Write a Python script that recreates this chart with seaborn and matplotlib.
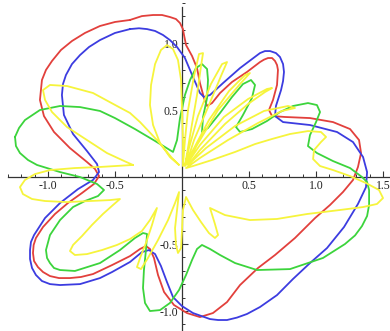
import numpy as np
import pandas as pd
import matplotlib
matplotlib.use("Agg")
import matplotlib.pyplot as plt
from matplotlib.ticker import FixedLocator, MultipleLocator
import seaborn as sns

# ---- traced curve coordinates (x, y) ----
red_x = [-0.388, -0.299, -0.216, -0.149, -0.090, -0.045, -0.015, 0.007, 0.015, 0.030, 0.075,
         0.112, 0.134, 0.164, 0.187, 0.224, 0.284, 0.373, 0.485, 0.582, 0.612, 0.642, 0.672,
         0.694, 0.709, 0.716, 0.709, 0.679, 0.649, 0.672, 0.769, 0.955, 1.127, 1.254, 1.321,
         1.336, 1.313, 1.276, 1.201, 1.104, 0.993, 0.843, 0.694, 0.567, 0.433, 0.336, 0.231,
         0.134, 0.037, -0.060, -0.134, -0.179, -0.209, -0.239, -0.269, -0.313, -0.388,
         -0.522, -0.664, -0.754, -0.836, -0.918, -0.985, -1.037, -1.075, -1.104, -1.112,
         -1.107, -1.090, -1.037, -0.948, -0.851, -0.746, -0.657, -0.619, -0.649, -0.709,
         -0.836, -0.955, -1.030, -1.060, -1.045, -1.015, -0.970, -0.903, -0.821, -0.724,
         -0.612, -0.500, -0.388]
red_y = [1.172, 1.201, 1.209, 1.209, 1.194, 1.179, 1.149, 1.104, 1.060, 0.985, 0.903,
         0.813, 0.701, 0.590, 0.530, 0.552, 0.627, 0.709, 0.784, 0.858, 0.876, 0.888, 0.888,
         0.866, 0.836, 0.799, 0.687, 0.575, 0.500, 0.455, 0.448, 0.440, 0.410, 0.358, 0.276,
         0.179, 0.075, -0.022, -0.112, -0.209, -0.306, -0.455, -0.582, -0.679, -0.806,
         -0.933, -1.015, -1.045, -1.015, -0.955, -0.858, -0.731, -0.604, -0.537, -0.515,
         -0.537, -0.590, -0.657, -0.724, -0.746, -0.754, -0.754, -0.739, -0.709, -0.672,
         -0.627, -0.567, -0.507, -0.455, -0.373, -0.276, -0.194, -0.119, -0.052, 0.007,
         0.060, 0.112, 0.216, 0.336, 0.455, 0.575, 0.724, 0.799, 0.866, 0.948, 1.015, 1.075,
         1.127, 1.157, 1.172]

blue_x = [-0.388, -0.321, -0.261, -0.201, -0.142, -0.090, -0.037, 0.022, 0.082, 0.134,
          0.164, 0.209, 0.306, 0.433, 0.582, 0.619, 0.657, 0.701, 0.731, 0.754, 0.761, 0.754,
          0.739, 0.701, 0.694, 0.754, 0.955, 1.157, 1.276, 1.351, 1.381, 1.373, 1.313, 1.209,
          1.082, 0.955, 0.828, 0.709, 0.582, 0.485, 0.410, 0.336, 0.269, 0.209, 0.082, 0.000,
          -0.067, -0.112, -0.157, -0.201, -0.246, -0.299, -0.388, -0.522, -0.612, -0.761,
          -0.910, -0.985, -1.045, -1.090, -1.119, -1.134, -1.134, -1.127, -1.104, -1.022,
          -0.910, -0.776, -0.664, -0.619, -0.634, -0.709, -0.813, -0.881, -0.896, -0.888,
          -0.866, -0.821, -0.761, -0.694, -0.612, -0.500, -0.388]
blue_y = [1.104, 1.110, 1.104, 1.090, 1.060, 1.022, 0.970, 0.888, 0.746, 0.627,
          0.597, 0.612, 0.701, 0.813, 0.925, 0.940, 0.940, 0.925, 0.896, 0.843, 0.784, 0.716,
          0.649, 0.530, 0.455, 0.410, 0.388, 0.336, 0.261, 0.149, 0.037, -0.075, -0.201,
          -0.373, -0.530, -0.642, -0.761, -0.881, -0.970, -1.022, -1.049, -1.067, -1.067,
          -1.060, -1.015, -0.963, -0.896, -0.784, -0.664, -0.575, -0.545, -0.560, -0.634,
          -0.709, -0.754, -0.799, -0.806, -0.799, -0.776, -0.731, -0.679, -0.612, -0.545,
          -0.485, -0.433, -0.306, -0.194, -0.090, -0.022, 0.037, 0.097, 0.194, 0.321, 0.463,
          0.612, 0.694, 0.761, 0.843, 0.910, 0.970, 1.022, 1.075, 1.104]

green_x = [-1.246, -1.239, -1.209, -1.149, -1.082, -0.910, -0.761, -0.634, -0.582, -0.627,
           -0.724, -0.813, -0.910, -0.985, -1.015, -1.007, -0.985, -0.955, -0.910, -0.799,
           -0.612, -0.463, -0.351, -0.291, -0.261, -0.269, -0.284, -0.291, -0.276, -0.239,
           -0.164, -0.090, -0.022, 0.030, 0.075, 0.112, 0.149, 0.209, 0.284, 0.396, 0.560,
           0.806, 1.052, 1.216, 1.291, 1.343, 1.381, 1.396, 1.396, 1.381, 1.343, 1.254, 1.127,
           1.007, 0.940, 0.955, 1.000, 1.030, 1.007, 0.940, 0.828, 0.731, 0.634, 0.522, 0.433,
           0.403, 0.455, 0.522, 0.545, 0.515, 0.455, 0.373, 0.284, 0.194, 0.149, 0.157, 0.187,
           0.194, 0.187, 0.149, 0.104, 0.060, 0.022, -0.015, -0.037, -0.067, -0.201, -0.351,
           -0.500, -0.612, -0.761, -0.910, -1.060, -1.172, -1.216, -1.246]
green_y = [0.299, 0.231, 0.179, 0.127, 0.090, 0.037, 0.000, -0.052, -0.097, -0.142,
           -0.179, -0.224, -0.321, -0.433, -0.545, -0.604, -0.642, -0.679, -0.694, -0.701,
           -0.642, -0.545, -0.455, -0.418, -0.425, -0.545, -0.694, -0.828, -0.940, -1.000,
           -0.993, -0.940, -0.843, -0.731, -0.619, -0.537, -0.507, -0.537, -0.582, -0.642,
           -0.694, -0.687, -0.604, -0.500, -0.436, -0.366, -0.291, -0.209, -0.097, -0.037,
           0.000, 0.067, 0.119, 0.179, 0.231, 0.313, 0.410, 0.485, 0.537, 0.552, 0.530, 0.485,
           0.418, 0.358, 0.336, 0.373, 0.463, 0.590, 0.687, 0.724, 0.694, 0.597, 0.478, 0.366,
           0.336, 0.448, 0.590, 0.724, 0.806, 0.843, 0.813, 0.724, 0.612, 0.440, 0.276, 0.187,
           0.269, 0.358, 0.440, 0.493, 0.522, 0.530, 0.500, 0.425, 0.366, 0.299]

yellow_x = [
    # left petal
    -0.366, -0.500, -0.612, -0.799, -0.985, -1.097, -1.172, -1.209, -1.187, -1.119, -1.022,
    -0.858, -0.687, -0.537, -0.463,
    # lower-left petal and spike
    -0.515, -0.590, -0.672, -0.746, -0.813, -0.836, -0.799, -0.709, -0.597, -0.485, -0.388,
    -0.299, -0.239, -0.187,
    -0.224, -0.269, -0.313, -0.336, -0.306, -0.254, -0.179, -0.104, -0.052, -0.022,
    # narrow lower petal
    -0.037, -0.052, -0.045, -0.030, -0.007, 0.000, 0.007, 0.030,
    # small lower-right petal
    0.082, 0.142, 0.201, 0.246, 0.269, 0.246, 0.209,
    # right lobe
    0.321, 0.507, 0.709, 0.933, 1.179, 1.351, 1.455, 1.500, 1.470, 1.373, 1.254, 1.127,
    1.030, 0.978, 0.985, 1.037, 1.075, 1.037, 0.940, 0.806, 0.672, 0.545, 0.396, 0.224,
    0.082, 0.030,
    # fan of petals, upper right
    0.134, 0.343, 0.567, 0.746, 0.843, 0.791, 0.612, 0.396, 0.179, 0.045,
    0.134, 0.321, 0.493, 0.619, 0.672, 0.634, 0.493, 0.313, 0.134, 0.037,
    0.112, 0.269, 0.433, 0.507, 0.470, 0.351, 0.201, 0.082, 0.030,
    0.090, 0.201, 0.291, 0.336, 0.299, 0.216, 0.119, 0.052, 0.022,
    0.067, 0.112, 0.142, 0.157, 0.127, 0.090, 0.045, 0.022, 0.007,
    # upper teardrop
    0.007, 0.000, -0.007, -0.030, -0.067, -0.112, -0.157, -0.201, -0.231, -0.239, -0.216,
    -0.164, -0.090, -0.022,
    # upper-left petal
    -0.075, -0.187, -0.313, -0.388, -0.485, -0.664, -0.858, -0.985, -1.037, -1.022, -0.970,
    -0.858, -0.709, -0.560, -0.448, -0.366]
yellow_y = [
    0.090, 0.082, 0.075, 0.067, 0.052, 0.022, -0.022, -0.075, -0.127, -0.164, -0.179,
    -0.187, -0.179, -0.172, -0.164,
    -0.209, -0.276, -0.358, -0.440, -0.507, -0.552, -0.582, -0.575, -0.545, -0.507, -0.463,
    -0.403, -0.321, -0.231,
    -0.358, -0.493, -0.604, -0.672, -0.687, -0.604, -0.470, -0.321, -0.194, -0.112,
    -0.246, -0.381, -0.507, -0.567, -0.530, -0.396, -0.246, -0.149,
    -0.246, -0.336, -0.418, -0.455, -0.433, -0.351, -0.231,
    -0.284, -0.321, -0.313, -0.276, -0.246, -0.224, -0.201, -0.157, -0.097, -0.045, 0.007,
    0.052, 0.082, 0.134, 0.201, 0.261, 0.299, 0.336, 0.343, 0.321, 0.284, 0.246, 0.187,
    0.127, 0.082, 0.067,
    0.142, 0.276, 0.403, 0.493, 0.515, 0.530, 0.493, 0.381, 0.216, 0.090,
    0.201, 0.396, 0.545, 0.634, 0.664, 0.657, 0.582, 0.448, 0.239, 0.097,
    0.239, 0.500, 0.694, 0.776, 0.761, 0.642, 0.425, 0.201, 0.090,
    0.276, 0.537, 0.754, 0.858, 0.843, 0.694, 0.455, 0.216, 0.082,
    0.351, 0.612, 0.828, 0.925, 0.918, 0.754, 0.500, 0.276, 0.082,
    0.276, 0.500, 0.724, 0.873, 0.955, 0.985, 0.948, 0.843, 0.687, 0.537, 0.388,
    0.254, 0.149, 0.090,
    0.142, 0.276, 0.410, 0.478, 0.530, 0.627, 0.679, 0.687, 0.649, 0.575, 0.485,
    0.373, 0.276, 0.179, 0.127, 0.090]

x_major = [-1.0, -0.5, 0.5, 1.0, 1.5]
x_labels = ["-1.0", "-0.5", "0.5", "1.0", "1.5"]
y_major = [-1.0, -0.5, 0.5, 1.0]
y_labels = ["-1.0", "-0.5", "0.5", "1.0"]

curves = [
    ("red", red_x, red_y, "#e2403c"),
    ("blue", blue_x, blue_y, "#3c3ce0"),
    ("green", green_x, green_y, "#3cd43c"),
    ("yellow", yellow_x, yellow_y, "#f6f43c"),
]

sns.set_style("white")
plt.rcParams["font.family"] = ["Liberation Serif", "DejaVu Serif"]

fig = plt.figure(figsize=(3.9, 3.31), dpi=100)
ax = fig.add_axes([0, 0, 1, 1])

for name, xs, ys, col in curves:
    df = pd.DataFrame({"x": xs, "y": ys})
    sns.lineplot(data=df, x="x", y="y", sort=False, estimator=None,
                 color=col, linewidth=1.3, ax=ax)
for line in ax.get_lines():
    line.set_solid_joinstyle("round")

ax.set_xlim(-1.358, 1.552)
ax.set_ylim(-1.149, 1.321)
ax.set_xlabel("")
ax.set_ylabel("")

for s in ("top", "right"):
    ax.spines[s].set_visible(False)
ax.spines["left"].set_position(("data", 0))
ax.spines["bottom"].set_position(("data", 0))
ax.spines["left"].set_bounds(-1.149, 1.27)
ax.spines["bottom"].set_bounds(-1.30, 1.552)
for s in ("left", "bottom"):
    ax.spines[s].set_color("#333333")
    ax.spines[s].set_linewidth(0.9)
    ax.spines[s].set_zorder(0.5)

ax.xaxis.set_major_locator(FixedLocator(x_major))
ax.set_xticklabels(x_labels)
ax.yaxis.set_major_locator(FixedLocator(y_major))
ax.set_yticklabels(y_labels)
ax.xaxis.set_minor_locator(MultipleLocator(0.1))
ax.yaxis.set_minor_locator(MultipleLocator(0.1))
ax.tick_params(which="major", direction="in", length=4.5, width=0.8, color="#333333",
               labelsize=8.5, labelcolor="#222222", pad=2.5)
ax.tick_params(which="minor", direction="in", length=2.5, width=0.7, color="#333333")
ax.tick_params(axis="y", which="both", left=True, right=False)
ax.tick_params(axis="x", which="both", bottom=True, top=False)

fig.savefig("out.png", dpi=100, facecolor="white")
